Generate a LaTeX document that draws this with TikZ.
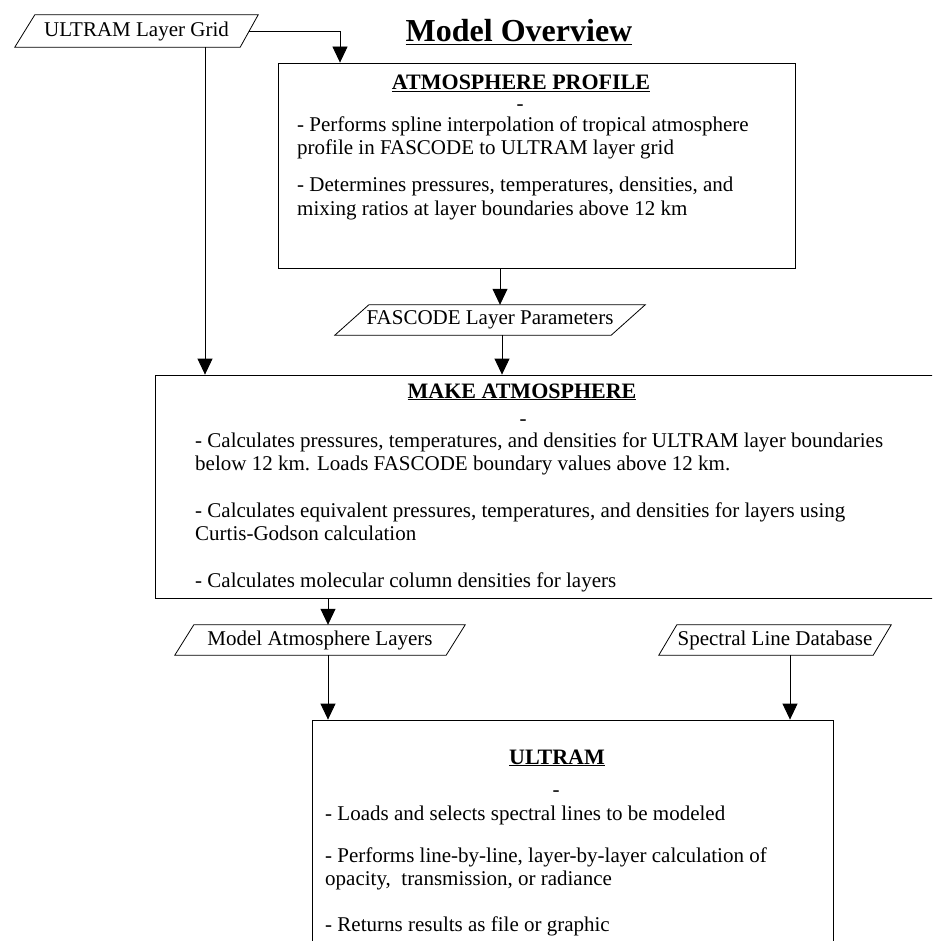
\documentclass[tikz,border=0pt]{standalone}
\usepackage{fontspec}
\setmainfont{Liberation Serif}
\usetikzlibrary{arrows.meta}
\begin{document}
\begin{tikzpicture}[x=1pt,y=-1pt,
  ln/.style={line width=0.8pt,black},
  arr/.style={ln,-{Triangle[width=15pt,length=16pt]}},
  frame/.style={draw,line width=0.8pt,inner sep=0pt,rectangle},
  iobox/.style={inner sep=0pt,rectangle,font=\fontsize{21}{23}\selectfont},
  body/.style={anchor=base west,inner sep=0pt,font=\fontsize{21}{23}\selectfont},
  head/.style={anchor=base,inner sep=0pt,font=\fontsize{22}{24}\selectfont\bfseries},
  bigtitle/.style={anchor=base,inner sep=0pt,font=\fontsize{32}{36}\selectfont\bfseries},
  dashmark/.style={anchor=base,inner sep=0pt,font=\fontsize{21}{23}\selectfont}
]
\useasboundingbox (0,0) rectangle (932,941);
\clip (0,0) rectangle (932,941);

% title
\node[bigtitle] (title) at (519,42) {\underline{Model Overview}};

% process boxes
\node[frame,minimum width=517pt,minimum height=205pt] (atm) at (536.5,165.5) {};
\node[frame,minimum width=805pt,minimum height=223pt] (make) at (557.5,486.5) {};
\node[frame,minimum width=521pt,minimum height=272pt] (ultram) at (572.5,856) {};

% data (parallelogram) nodes
\node[iobox,minimum width=243pt,minimum height=32pt] (grid) at (136.5,31) {ULTRAM Layer Grid};
\draw[ln] (grid.south west) -- ([xshift=20pt]grid.north west) -- (grid.north east) -- ([xshift=-18pt]grid.south east) -- cycle;

\node[iobox,minimum width=310pt,minimum height=30pt] (fasc) at (490,320) {FASCODE Layer Parameters};
\draw[ln] (fasc.south west) -- ([xshift=34pt]fasc.north west) -- (fasc.north east) -- ([xshift=-34pt]fasc.south east) -- cycle;

\node[iobox,minimum width=290pt,minimum height=30pt] (model) at (320,640) {Model Atmosphere Layers};
\draw[ln] (model.south west) -- ([xshift=19pt]model.north west) -- (model.north east) -- ([xshift=-19pt]model.south east) -- cycle;

\node[iobox,minimum width=232pt,minimum height=30pt] (spec) at (775,640) {Spectral Line Database};
\draw[ln] (spec.south west) -- ([xshift=18pt]spec.north west) -- (spec.north east) -- ([xshift=-18pt]spec.south east) -- cycle;

% connector x positions
\coordinate (c1) at (340,0);
\coordinate (c2) at (205,0);
\coordinate (c3) at (500,0);
\coordinate (c4) at (502,0);
\coordinate (c5) at (328,0);
\coordinate (c6) at (790,0);

\draw[arr] ([xshift=-9pt]grid.east) -| (atm.north -| c1);
\draw[arr] (grid.south -| c2) -- (make.north -| c2);
\draw[arr] (atm.south -| c3) -- (fasc.north -| c3);
\draw[arr] (fasc.south -| c4) -- (make.north -| c4);
\draw[arr] (make.south -| c5) -- (model.north -| c5);
\draw[arr] (model.south -| c5) -- (ultram.north -| c5);
\draw[arr] (spec.south -| c6) -- (ultram.north -| c6);

% ATMOSPHERE PROFILE text
\node[head] (atmh) at (521,90) {\underline{ATMOSPHERE PROFILE}};
\node[dashmark] (atmd) at (520,111) {-};
\node[body] (a1) at (297,132) {- Performs spline interpolation of tropical atmosphere};
\node[body] (a2) at (297,155) {profile in FASCODE to ULTRAM layer grid};
\node[body] (a3) at (297,192) {- Determines pressures, temperatures, densities, and};
\node[body] (a4) at (297,215) {mixing ratios at layer boundaries above 12 km};

% MAKE ATMOSPHERE text
\node[head] (makeh) at (522,398) {\underline{MAKE ATMOSPHERE}};
\node[dashmark] (maked) at (523,425) {-};
\node[body] (m1) at (195,447) {- Calculates pressures, temperatures, and densities for ULTRAM layer boundaries};
\node[body] (m2) at (195,470) {below 12 km. Loads FASCODE boundary values above 12 km.};
\node[body] (m3) at (195,517) {- Calculates equivalent pressures, temperatures, and densities for layers using};
\node[body] (m4) at (195,540) {Curtis-Godson calculation};
\node[body] (m5) at (195,587) {- Calculates molecular column densities for layers};

% ULTRAM text
\node[head] (ulth) at (557,764) {\underline{ULTRAM}};
\node[dashmark] (ultd) at (556,796) {-};
\node[body] (u1) at (325,820) {- Loads and selects spectral lines to be modeled};
\node[body] (u2) at (325,862) {- Performs line-by-line, layer-by-layer calculation of};
\node[body] (u3) at (325,885) {opacity,\ \ transmission, or radiance};
\node[body] (u4) at (325,931) {- Returns results as file or graphic};
\end{tikzpicture}
\end{document}
